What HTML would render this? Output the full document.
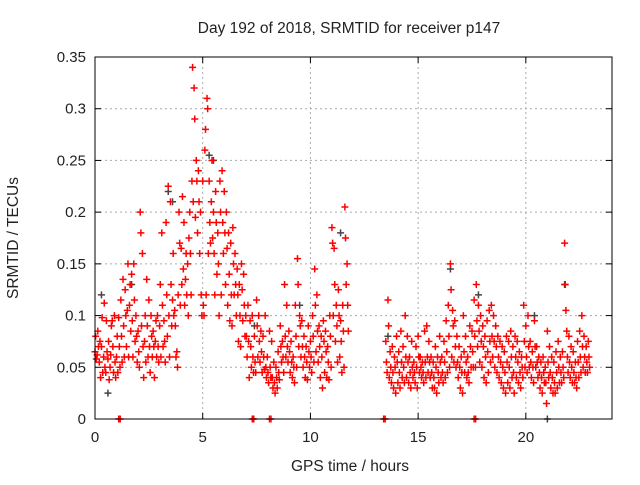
<!DOCTYPE html>
<html><head><meta charset="utf-8"><style>
body{margin:0;background:#fff;width:640px;height:480px;overflow:hidden}
svg text{font-family:"Liberation Sans",sans-serif;fill:#222}
</style></head><body>
<svg id="chart" width="640" height="480" xmlns="http://www.w3.org/2000/svg">
<rect width="640" height="480" fill="#fff"/>
<g id="grid"></g>
<g id="marks"></g>
<rect x="95" y="57" width="517" height="362" fill="none" stroke="#000" stroke-width="1"/>
<g id="ticks"></g>
<text x="349" y="33" text-anchor="middle" font-size="15.5">Day 192 of 2018, SRMTID for receiver p147</text>
<text x="350" y="471" text-anchor="middle" font-size="15.5">GPS time / hours</text>
<text transform="translate(18,238) rotate(-90)" text-anchor="middle" font-size="15.5">SRMTID / TECUs</text>
</svg>
<script>
const xTicks=[0,5,10,15,20];
const yTicks=[0,0.05,0.1,0.15,0.2,0.25,0.3,0.35];
const yTickLabels=["0","0.05","0.1","0.15","0.2","0.25","0.3","0.35"];
const seg1Start=0.0;
const seg1=[
[65,80,58],[62,85,70],[55,75,40],[70,98,45],[60,112,50],[45,95,65],[58,75,38],[50,62,90],[95,70,45],[100,55,40],
[60,80,45],[98,70,50],[115,80,55],[135,90,60],[125,100,70],[105,150,60],[110,130,85],[140,95,60],[150,115,75],[100,80,55],
[85,65,50],[200,180,90],[160,70,40],[75,100,55],[135,90,60],[115,70,45],[100,80,60],[85,70,40],[75,95,60],[100,70,55],
[90,130,60],[180,110,70],[95,75,55],[190,120,80],[225,100,60],[210,130,90],[115,160,100],[105,90,60],[65,50,120],[200,170,110],
[165,130,215],[145,190,110],[135,160,120],[150,100,175],[200,160,120],[230,340,210],[320,290,195],[250,230,180],[240,210,160],[200,120,100],
[230,110,100],[260,280,120],[310,300,160],[230,190,170],[210,250,175],[200,160,120],[220,190,140],[180,150,100],[230,200,120],[240,190,160],
[220,180,130],[200,165,110],[180,140,95],[170,120,90],[185,150,120],[160,130,100],[145,120,75],[130,100,70],[150,125,95],[140,110,80],
[100,80,60],[110,75,40],[95,70,50],[100,60,45],[80,55,45],[115,90,60],[100,75,55],[85,65,45],[80,60,48],[100,50,40],
[60,45,35],[85,50,40],[75,40,30],[55,35,25],[50,40,30],[65,45,38],[90,70,55],[75,60,45],[130,80,60],[110,70,55],
[85,65,45],[75,55,40],[60,50,35],[110,80,50],[155,130,70],[100,90,60],[95,70,50],[80,60,40],[70,55,38],[90,65,50],
[75,60,45],[100,80,55],[145,110,65],[120,85,55],[90,70,40],[80,60,30],[95,75,45],[85,65,40],[70,55,38],[100,80,50],
[185,170,100],[165,130,75],[110,90,55],[125,100,60],[95,75,45],[110,85,50],[205,175,130],[150,110,85]];
const seg2Start=13.5;
const seg2=[
[75,55,45],[115,90,40],[65,50,35],[70,45,30],[60,50,25],[80,55,35],[65,45,30],[85,55,40],[70,50,35],[100,60,40],
[80,55,35],[60,45,30],[75,50,40],[55,45,35],[70,50,30],[80,60,45],[60,50,40],[55,45,35],[85,55,40],[90,60,45],
[75,55,40],[60,45,30],[55,40,30],[70,50,25],[60,45,35],[80,55,40],[60,45,35],[75,55,40],[95,65,45],[110,80,50],
[150,125,60],[105,90,55],[95,70,50],[80,55,40],[70,50,30],[60,45,25],[100,65,45],[80,55,40],[60,45,35],[90,70,50],
[85,65,50],[115,80,50],[130,95,70],[110,85,55],[100,75,50],[90,70,40],[80,60,35],[95,65,45],[105,75,55],[110,80,60],
[100,75,50],[90,70,45],[80,60,40],[75,55,35],[70,50,30],[65,45,25],[80,55,35],[75,50,30],[85,60,40],[70,45,25],
[80,60,40],[75,55,35],[65,45,30],[60,50,40],[110,75,50],[90,60,45],[100,70,50],[75,55,40],[65,50,35],[95,70,50],
[70,55,40],[60,45,30],[55,40,25],[60,45,35],[50,35,15],[85,55,40],[70,45,30],[60,40,25],[55,35,25],[65,45,30],
[75,50,35],[60,45,35],[65,50,40],[170,130,105],[85,60,45],[80,55,40],[70,50,35],[65,45,35],[55,40,30],[75,55,40],
[85,60,45],[100,70,50],[80,60,45],[70,55,45],[75,60,50]];
const stepHours=0.1;
const zeroX=[1.1,7.3,8.1,13.4,17.6];
const greyX=[0.3,0.6,1.7,3.4,3.6,5.3,5.5,7.4,9.5,11.4,13.6,16.5,17.8,20.4,21.8,21.0];
const greyY=[0.12,0.025,0.13,0.22,0.21,0.255,0.25,0.09,0.11,0.18,0.08,0.145,0.12,0.1,0.13,0.0];

const L=95,R=612,T=57,B=419,XMAX=24,YMAX=0.35;
const sx=v=>L+(R-L)*v/XMAX;
const sy=v=>B-(B-T)*v/YMAX;
const NS="http://www.w3.org/2000/svg";
const grid=document.getElementById('grid'),ticks=document.getElementById('ticks'),marks=document.getElementById('marks');
function line(p,x1,y1,x2,y2,st,dash){const l=document.createElementNS(NS,'line');l.setAttribute('x1',x1);l.setAttribute('y1',y1);l.setAttribute('x2',x2);l.setAttribute('y2',y2);l.setAttribute('stroke',st);if(dash)l.setAttribute('stroke-dasharray',dash);p.appendChild(l);return l;}
function txt(x,y,s,anchor){const t=document.createElementNS(NS,'text');t.setAttribute('x',x);t.setAttribute('y',y);t.setAttribute('text-anchor',anchor);t.setAttribute('font-size','15');t.textContent=s;ticks.appendChild(t);return t;}
xTicks.forEach(v=>{const x=sx(v);
 if(v>0){const g=line(grid,x,T,x,B,'#aaa','2,3');
 
 }
 line(ticks,x,B,x,B-6,'#000');line(ticks,x,T,x,T+6,'#000');
 const t=txt(x,442,String(v),'middle');
 
 });
yTicks.forEach((v,i)=>{const y=sy(v);
 if(v>0&&v<YMAX){const g=line(grid,L,y,R,y,'#aaa','2,3');
 
 }
 line(ticks,L,y,L+6,y,'#000');line(ticks,R,y,R-6,y,'#000');
 const t=txt(L-9,y+5,yTickLabels[i],'end');
 
 });
function plus(x,y,c,name){const p=document.createElementNS(NS,'path');
 p.setAttribute('d',`M${x-3.5},${y}H${x+3.5}M${x},${y-3.5}V${y+3.5}`);
 p.setAttribute('stroke',c);p.setAttribute('stroke-width','1.5');
 
 
 marks.appendChild(p);}
greyX.forEach((x,i)=>plus(sx(x),sy(greyY[i]),'#444','srmtid-point-alt'));
[[seg1Start,seg1],[seg2Start,seg2]].forEach(([t0,seg])=>{
 seg.forEach((vals,i)=>{const t=t0+i*stepHours;
  vals.forEach((v,j)=>plus(sx(t+j*0.03),sy(v/1000),'#f00','srmtid-point'));});});
zeroX.forEach(x=>{plus(sx(x),sy(0),'#f00','srmtid-zero-point');plus(sx(x)+1.5,sy(0),'#f00','srmtid-zero-point');});
</script>
</body></html>
